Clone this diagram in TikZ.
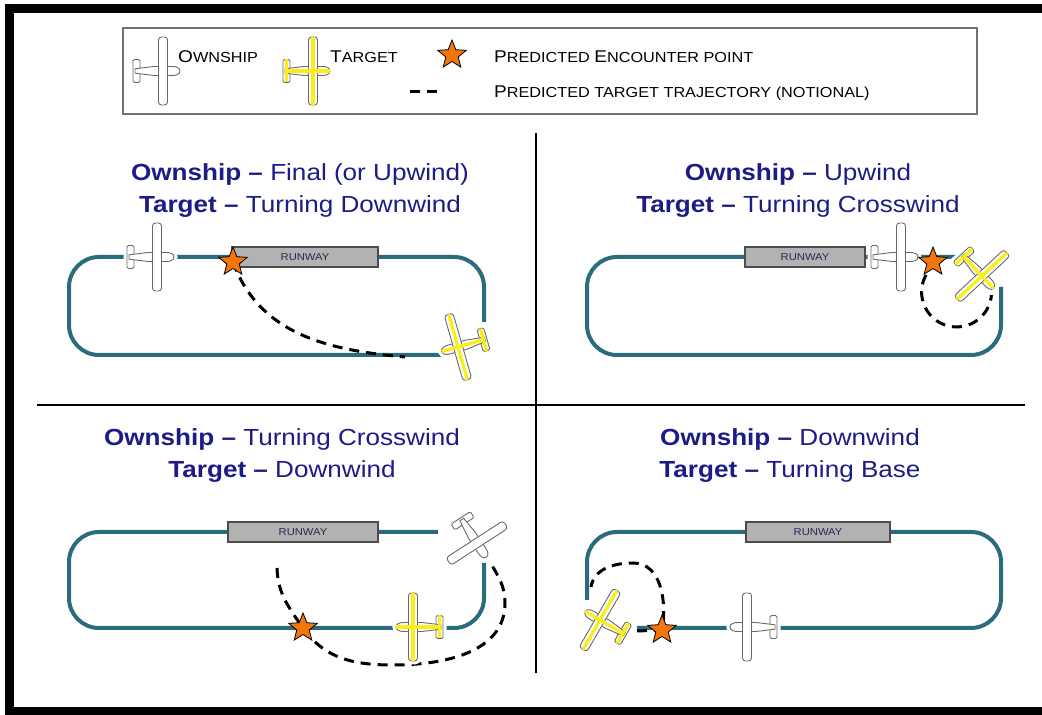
\documentclass[tikz,border=0pt]{standalone}
\usepackage{fontspec}
\setmainfont{Liberation Sans}[FakeStretch=1.12]
\usetikzlibrary{shapes.geometric,shadows}

\definecolor{circuit}{RGB}{42,108,126}
\definecolor{navy}{RGB}{28,28,135}
\definecolor{hullgrey}{RGB}{105,105,105}
\definecolor{tgtyellow}{RGB}{250,238,20}
\definecolor{encorange}{RGB}{242,118,12}
\definecolor{rwgrey}{RGB}{178,178,178}
\definecolor{rwtext}{RGB}{40,40,85}

\newcommand\smcap[2]{{\fontsize{17}{20}\selectfont #1}{\fontsize{14.5}{17}\selectfont #2}}

% tail plane, fuselage, wing (nose towards +x)
\newcommand\planebody[1]{%
  \path[#1, rounded corners=1.5] (-30,-11.5) rectangle (-23,11.5);
  \path[#1] (-28,-2.2) -- (-9,-4.5) -- (9,-4.5) to[out=0,in=-90] (17,0)
    to[out=90,in=0] (9,4.5) -- (-9,4.5) -- (-28,2.2) -- cycle;
  \path[#1, rounded corners=3] (-4.5,-34) rectangle (4.5,34);
}

\tikzset{
  halo/.style = {draw=white, fill=white, line width=7},
  hull/.style = {draw=hullgrey, fill=white, line width=0.9},
  pics/ownship/.style = {code={\planebody{halo}\planebody{hull}}},
  pics/target/.style = {code={
    \planebody{halo}\planebody{hull}
    \draw[tgtyellow, line width=3.2] (-28,0) -- (17,0) (0,-34) -- (0,34)
      (-26.5,-11.5) -- (-26.5,11.5);
  }},
  pattern/.style = {draw=circuit, line width=4, rounded corners=30},
  runway/.style = {draw=black!70, fill=rwgrey, line width=1.2, minimum height=20pt,
    inner sep=0, text=rwtext, font=\fontsize{10}{12}\selectfont,
    drop shadow={shadow xshift=1pt, shadow yshift=-1pt, opacity=0.3}},
  encounter/.style = {star, star points=5, star point ratio=2.3, draw=black,
    fill=encorange, line width=0.8, minimum size=30pt, inner sep=0},
  traj/.style = {line width=3, dash pattern=on 10pt off 7pt},
  heading/.style = {text=navy, font=\fontsize{23.3}{28}\selectfont, anchor=base, inner sep=0},
  key/.style = {anchor=base west, inner sep=0, font=\fontsize{14.5}{17}\selectfont},
}

\begin{document}
\begin{tikzpicture}[x=1pt, y=1pt]
        \useasboundingbox (0,0) rectangle (1042,715);
        \fill[white] (0,0) rectangle (1042,715);
        \draw[line width=9] (9.5,3) rectangle (1050,706);

        % key
        \draw[draw=black!55, line width=1.5] (123,601) rectangle (977,687);
        \pic (keyown) at (163,644) {ownship};
        \node[key] (keyowntxt) at (178,652) {\smcap{O}{WNSHIP}};
        \pic (keytgt) at (313,644) {target};
        \node[key] (keytgttxt) at (330,652) {\smcap{T}{ARGET}};
        \node[encounter] (keystar) at (452,660) {};
        \node[key] (keystartxt) at (494,652) {\smcap{P}{REDICTED} \smcap{E}{NCOUNTER POINT}};
        \coordinate (keydashA) at (410,623);
        \coordinate (keydashB) at (441,623);
        \draw[traj] (keydashA) -- (keydashB);
        \node[key] (keydashtxt) at (494,617) {\smcap{P}{REDICTED TARGET TRAJECTORY (NOTIONAL)}};

        \draw[line width=2.5] (536,582) -- (536,42);
        \draw[line width=2.5] (37,310) -- (1025,310);

        \node[heading] (own1) at (300,534) {\textbf{Ownship --} Final (or Upwind)};
        \node[heading] (tgt1) at (300,502) {\textbf{Target --} Turning Downwind};
        \node[heading] (own2) at (798,534) {\textbf{Ownship --} Upwind};
        \node[heading] (tgt2) at (798,502) {\textbf{Target --} Turning Crosswind};
        \node[heading] (own3) at (282,269) {\textbf{Ownship --} Turning Crosswind};
        \node[heading] (tgt3) at (282,237) {\textbf{Target --} Downwind};
        \node[heading] (own4) at (790,269) {\textbf{Ownship --} Downwind};
        \node[heading] (tgt4) at (790,237) {\textbf{Target --} Turning Base};

        % traffic patterns
        \draw[pattern] (484,393) -- (484,458) -- (69,458) -- (69,360) -- (442,360);
        \draw[pattern] (957,458) -- (587,458) -- (587,360) -- (1001,360) -- (1001,428);
        \draw[pattern] (438,183) -- (69,183) -- (69,87) -- (484,87) -- (484,152);
        \draw[pattern] (637,87) -- (1001,87) -- (1001,183) -- (587,183) -- (587,115);

        \node[runway, minimum width=146pt] (rw1) at (305,458) {RUNWAY};
        \node[runway, minimum width=120pt] (rw2) at (805,458) {RUNWAY};
        \node[runway, minimum width=150pt] (rw3) at (303,183) {RUNWAY};
        \node[runway, minimum width=144pt] (rw4) at (818,183) {RUNWAY};

        \coordinate (hit1) at (233,453);
        \coordinate (hit2) at (933,453);
        \coordinate (hit3) at (303,87);
        \coordinate (hit4) at (662,85);

        % predicted target paths
        \coordinate (q1end) at (405,358);
        \draw[traj] (hit1) to[out=-70,in=175] (q1end);
        \coordinate (q2from) at (926,440);
        \draw[traj] (q2from) arc[start angle=151, end angle=355, radius=35];
        \coordinate (q3from) at (277,147);
        \coordinate (q3low) at (393,50);
        \coordinate (q3side) at (505,112);
        \coordinate (q3to) at (490,153);
        \draw[traj] (q3from) to[out=-88,in=125] (hit3) to[out=-55,in=180] (q3low)
          to[out=0,in=-90] (q3side) to[out=90,in=-60] (q3to);
        \coordinate (q4from) at (637,84);
        \coordinate (q4top) at (633,152);
        \coordinate (q4to) at (591,128);
        \draw[traj] (q4from) -- (hit4) to[out=80,in=0] (q4top) to[out=180,in=80] (q4to);

        \pic (own1p) at (157,458) {ownship};
        \pic[rotate=196] (tgt1p) at (458,368) {target};
        \pic (own2p) at (901,458) {ownship};
        \pic[rotate=-47] (tgt2p) at (982,439) {target};
        \pic[rotate=-57] (own3p) at (477,172) {ownship};
        \pic[rotate=180] (tgt3p) at (413,88) {target};
        \pic[rotate=150] (tgt4p) at (600,95) {target};
        \pic[rotate=180] (own4p) at (747,88) {ownship};

        \node[encounter] (star1) at (hit1) {};
        \node[encounter] (star2) at (hit2) {};
        \node[encounter] (star3) at (hit3) {};
        \node[encounter] (star4) at (hit4) {};
\end{tikzpicture}
\end{document}
